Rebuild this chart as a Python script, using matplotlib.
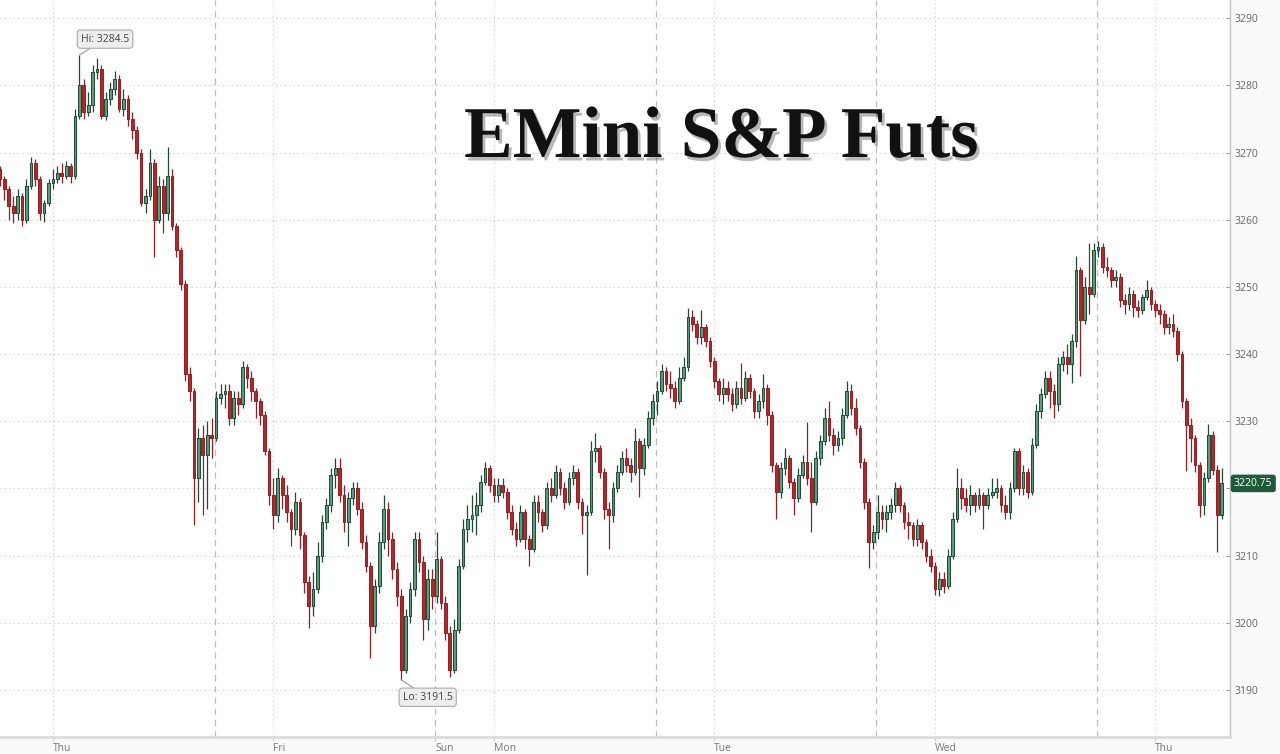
import matplotlib
matplotlib.use('Agg')
import matplotlib.pyplot as plt
import matplotlib.patheffects as pe
import matplotlib.transforms as mtransforms
import numpy as np

# ---------------- data ----------------
opens = [3267.5, 3266, 3264.5, 3262, 3261, 3263.5, 3260, 3265, 3268.5, 3266,
         3261, 3262.5, 3265.5, 3266, 3267, 3266.5, 3268, 3266.5, 3275.5, 3280,
         3276, 3277, 3282, 3282.5, 3275.5, 3278, 3279.5, 3281, 3276.5, 3278,
         3275, 3273.3, 3270, 3262.5, 3263.5, 3268.5, 3260, 3265, 3261, 3266.5,
         3259, 3255.5, 3250.5, 3237, 3234.5, 3221.5, 3227.5, 3225, 3228, 3227.5,
         3233.5, 3234, 3234.5, 3230.5, 3233.5, 3232.5, 3238, 3236.5, 3234.5, 3233,
         3231, 3225.5, 3219, 3216, 3221.5, 3219, 3216.5, 3214, 3218, 3213,
         3206, 3202.5, 3205, 3210, 3215, 3217.5, 3222, 3223, 3219, 3215,
         3218.5, 3220, 3217, 3212, 3208.5, 3199.5, 3205.5, 3212, 3217, 3212.5,
         3208, 3204, 3193, 3201, 3205, 3212.5, 3209, 3200.5, 3206.5, 3204,
         3209.5, 3203, 3198.5, 3193, 3199, 3208.5, 3214, 3215.5, 3216, 3217.5,
         3221, 3223, 3220.5, 3219, 3220.5, 3219.5, 3216.5, 3214, 3212.5, 3216.5,
         3212.5, 3211, 3218, 3216.5, 3214.5, 3220, 3219, 3222.5, 3220, 3218,
         3221.5, 3222.5, 3218, 3216, 3216.5, 3225.5, 3226, 3222.5, 3217, 3216,
         3220, 3222.5, 3224.5, 3223.5, 3222.5, 3227, 3223, 3226.5, 3230.5, 3233,
         3234.5, 3237.5, 3235.5, 3235, 3233, 3236.5, 3238, 3245.5, 3244.5, 3242.5,
         3244, 3242, 3239, 3236, 3234, 3235, 3234, 3232.5, 3235, 3233.5,
         3236.5, 3234.5, 3231.5, 3233, 3235, 3231, 3223.5, 3219.5, 3223, 3224.5,
         3221, 3218.5, 3222, 3224, 3221.5, 3218, 3224.5, 3227, 3230.5, 3228,
         3226.5, 3227.5, 3231, 3234.5, 3232, 3229, 3224, 3218, 3212, 3213.5,
         3216.5, 3215.5, 3216.5, 3217.5, 3220, 3217.5, 3215, 3214.5, 3212.5, 3214.5,
         3212, 3210, 3208.5, 3205, 3206.5, 3205.5, 3210, 3215.5, 3220, 3218.5,
         3217.5, 3219, 3217.5, 3219, 3217.5, 3219, 3219.5, 3220, 3217.5, 3216.5,
         3220, 3225.5, 3220, 3222.5, 3219.5, 3226.5, 3231.5, 3234, 3236.5, 3234.5,
         3232.5, 3238.5, 3239.5, 3238.5, 3242, 3252.5, 3245, 3250, 3249, 3255.5,
         3256, 3253, 3252.5, 3251, 3251.5, 3248, 3247.5, 3249, 3247, 3246.5,
         3248.5, 3249.5, 3247.5, 3246.5, 3246, 3244, 3244.5, 3243.5, 3240, 3233,
         3229.5, 3227.5, 3223.5, 3217.5, 3221.5, 3228, 3222.8, 3216]
highs = [3268, 3266.5, 3265, 3263.5, 3264.5, 3264, 3266, 3269.3, 3269, 3266.5,
         3263, 3266, 3267.5, 3268, 3268.4, 3268.8, 3268.5, 3276.5, 3284.5, 3281,
         3279, 3283, 3284, 3283, 3279, 3280.5, 3282.2, 3281.5, 3279.5, 3278.5,
         3276, 3274, 3270.5, 3264.5, 3270.5, 3269, 3266.5, 3266, 3270.8, 3267.5,
         3259.5, 3256, 3251, 3238, 3235, 3229, 3229.5, 3230, 3230.5, 3234.5,
         3235.5, 3235.5, 3235.5, 3234.5, 3234.5, 3239, 3238.5, 3237.5, 3235, 3233.5,
         3231.5, 3226, 3221.5, 3223, 3222, 3220.5, 3217, 3219.5, 3218.5, 3213.5,
         3207, 3207.5, 3212, 3216, 3218.5, 3223, 3224.5, 3224.5, 3220.5, 3219.5,
         3221, 3221, 3218, 3213, 3209, 3206.5, 3213.5, 3219, 3218, 3213.5,
         3209, 3205, 3202, 3206, 3213.5, 3213.5, 3210, 3208, 3208, 3213.5,
         3210, 3204, 3199.5, 3200.5, 3209.5, 3215.5, 3217.5, 3219, 3219.5, 3222,
         3224, 3223.5, 3221.5, 3221.5, 3221.5, 3220, 3217.5, 3215, 3217.5, 3217,
         3213, 3219, 3219, 3217, 3221, 3221.5, 3223.5, 3223, 3221, 3222.5,
         3223.5, 3223, 3218.5, 3217.5, 3227, 3228.2, 3226.5, 3223, 3218, 3221,
         3223.5, 3225.5, 3226, 3224.5, 3229, 3227.5, 3227.5, 3231.5, 3234, 3236,
         3238.5, 3238, 3237.5, 3236, 3238, 3239.5, 3246.8, 3246.5, 3245, 3246.5,
         3244.5, 3242.5, 3239.5, 3236.5, 3236.5, 3236, 3235, 3236, 3238.6, 3237.5,
         3237, 3235, 3234, 3237, 3235.5, 3231.5, 3224, 3224, 3226, 3225,
         3221.5, 3223, 3225, 3229.9, 3224, 3225.5, 3228, 3232, 3233, 3229,
         3228.5, 3232, 3236, 3235.5, 3233.5, 3229.5, 3224.5, 3218.5, 3214.5, 3219,
         3217.5, 3217.5, 3218.5, 3221, 3220.5, 3218, 3216.5, 3215, 3215.5, 3215,
         3212.5, 3211, 3209, 3207.5, 3207.5, 3211, 3216.5, 3223, 3221.5, 3220,
         3220.5, 3219.5, 3220, 3219.5, 3220, 3221.5, 3221.5, 3220.5, 3219, 3221,
         3226, 3226, 3223.5, 3223, 3227.5, 3232.5, 3235, 3237.5, 3237.5, 3235.5,
         3239.5, 3240.5, 3241.5, 3243, 3254.6, 3253, 3251.5, 3256.6, 3256.5, 3256.8,
         3256.5, 3254.5, 3253, 3252.5, 3252, 3249, 3250, 3249.5, 3248, 3249,
         3251, 3250, 3248, 3247.5, 3246.5, 3245.5, 3246, 3244, 3240.5, 3233.5,
         3230.5, 3228, 3224, 3222.5, 3229.6, 3228.5, 3223.5, 3223.1]
lows = [3265, 3263, 3260, 3259.5, 3260, 3259, 3259.5, 3264.5, 3265, 3260,
        3259.6, 3262, 3264.5, 3265.5, 3265.5, 3266, 3265.5, 3266, 3275, 3275,
        3275.5, 3276, 3281, 3275, 3274.8, 3277, 3278.5, 3276, 3275.5, 3274,
        3272, 3269, 3262, 3261, 3263, 3254.5, 3259.5, 3258, 3260, 3258.5,
        3254.5, 3249.5, 3236, 3233, 3214.6, 3218, 3216, 3217, 3224.5, 3227,
        3232.5, 3232, 3229.5, 3229.5, 3231, 3232, 3235, 3233, 3230.5, 3229.5,
        3225, 3217.5, 3214, 3215, 3217, 3215, 3211.5, 3213, 3211, 3204.5,
        3199.2, 3201, 3204.5, 3209, 3214, 3216.5, 3220, 3218, 3213.5, 3211.5,
        3217.5, 3216, 3211, 3207.5, 3194.7, 3198.5, 3204.5, 3211, 3210, 3206.5,
        3202.5, 3191.5, 3192.5, 3200, 3204, 3207.5, 3197.5, 3199, 3202, 3203,
        3202, 3197.5, 3192, 3192.5, 3198.5, 3208, 3212, 3213.5, 3213, 3216.5,
        3220.5, 3219.5, 3218, 3218, 3218.5, 3215.5, 3213, 3211.5, 3212, 3211,
        3208.5, 3210.5, 3215, 3213.5, 3214, 3218, 3218.5, 3219, 3217, 3217.5,
        3220.5, 3217, 3213.2, 3207.1, 3216, 3224, 3221.5, 3215.5, 3211, 3215,
        3219.5, 3222, 3222.5, 3221, 3222, 3218.7, 3222, 3226, 3229.5, 3231,
        3234, 3234.5, 3233.5, 3232, 3232.5, 3236, 3237.5, 3243.5, 3241.5, 3241.5,
        3241, 3238, 3235, 3233, 3232.5, 3233, 3231.5, 3232, 3232.5, 3233,
        3233.5, 3230.5, 3230.5, 3232, 3229.5, 3222.5, 3215.5, 3218.5, 3222, 3220,
        3216, 3218, 3221.5, 3220.5, 3213.5, 3217.5, 3223.5, 3226.5, 3227, 3225,
        3225.5, 3226.5, 3230.5, 3231, 3228, 3223, 3217, 3208.2, 3211, 3212.5,
        3214, 3213.5, 3215.5, 3216.5, 3216.5, 3214, 3212.5, 3211.5, 3211.5, 3211,
        3209, 3207.5, 3204.2, 3204, 3204.5, 3205, 3209.5, 3215, 3217, 3216.5,
        3216, 3216.5, 3217, 3214, 3217, 3218.5, 3218.5, 3216.5, 3215.5, 3215.5,
        3219.5, 3219, 3219, 3218.5, 3219, 3226, 3230.5, 3233.5, 3232, 3230.5,
        3231.5, 3237.5, 3237, 3235.7, 3241, 3236.7, 3244.5, 3246, 3248.5, 3254.5,
        3252, 3251.5, 3250, 3250, 3247, 3246, 3246.5, 3245.5, 3245.5, 3246,
        3248, 3246.5, 3245.5, 3244.5, 3243, 3243, 3242.5, 3239, 3232, 3222.6,
        3224, 3222.5, 3215.7, 3216, 3221, 3222, 3210.5, 3215.5]
closes = [3266, 3264.5, 3262, 3261, 3263.5, 3260, 3265, 3268.5, 3266, 3261,
          3262.5, 3265.5, 3266, 3267, 3266.5, 3268, 3266.5, 3275.5, 3280, 3276,
          3277, 3282, 3282.5, 3275.5, 3278, 3279.5, 3281, 3276.5, 3278, 3275,
          3273.3, 3270, 3262.5, 3263.5, 3268.5, 3260, 3265, 3261, 3266.5, 3259,
          3255.5, 3250.5, 3237, 3234.5, 3221.5, 3227.5, 3225, 3228, 3227.5, 3233.5,
          3234, 3234.5, 3230.5, 3233.5, 3232.5, 3238, 3236.5, 3234.5, 3233, 3231,
          3225.5, 3219, 3216, 3221.5, 3219, 3216.5, 3214, 3218, 3213, 3206,
          3202.5, 3205, 3210, 3215, 3217.5, 3222, 3223, 3219, 3215, 3218.5,
          3220, 3217, 3212, 3208.5, 3199.5, 3205.5, 3212, 3217, 3212.5, 3208,
          3204, 3193, 3201, 3205, 3212.5, 3209, 3200.5, 3206.5, 3204, 3209.5,
          3203, 3198.5, 3193, 3199, 3208.5, 3214, 3215.5, 3216, 3217.5, 3221,
          3223, 3220.5, 3219, 3220.5, 3219.5, 3216.5, 3214, 3212.5, 3216.5, 3212.5,
          3211, 3218, 3216.5, 3214.5, 3220, 3219, 3222.5, 3220, 3218, 3221.5,
          3222.5, 3218, 3216, 3216.5, 3225.5, 3226, 3222.5, 3217, 3216, 3220,
          3222.5, 3224.5, 3223.5, 3222.5, 3227, 3223, 3226.5, 3230.5, 3233, 3234.5,
          3237.5, 3235.5, 3235, 3233, 3236.5, 3238, 3245.5, 3244.5, 3242.5, 3244,
          3242, 3239, 3236, 3234, 3235, 3234, 3232.5, 3235, 3233.5, 3236.5,
          3234.5, 3231.5, 3233, 3235, 3231, 3223.5, 3219.5, 3223, 3224.5, 3221,
          3218.5, 3222, 3224, 3221.5, 3218, 3224.5, 3227, 3230.5, 3228, 3226.5,
          3227.5, 3231, 3234.5, 3232, 3229, 3224, 3218, 3212, 3213.5, 3216.5,
          3215.5, 3216.5, 3217.5, 3220, 3217.5, 3215, 3214.5, 3212.5, 3214.5, 3212,
          3210, 3208.5, 3205, 3206.5, 3205.5, 3210, 3215.5, 3220, 3218.5, 3217.5,
          3219, 3217.5, 3219, 3217.5, 3219, 3219.5, 3220, 3217.5, 3216.5, 3220,
          3225.5, 3220, 3222.5, 3219.5, 3226.5, 3231.5, 3234, 3236.5, 3234.5, 3232.5,
          3238.5, 3239.5, 3238.5, 3242, 3252.5, 3245, 3250, 3249, 3255.5, 3256,
          3253, 3252.5, 3251, 3251.5, 3248, 3247.5, 3249, 3247, 3246.5, 3248.5,
          3249.5, 3247.5, 3246.5, 3246, 3244, 3244.5, 3243.5, 3240, 3233, 3229.5,
          3227.5, 3223.5, 3217.5, 3221.5, 3228, 3222.8, 3216, 3220.75]

day_labels = ['Thu', 'Fri', 'Sun', 'Mon', 'Tue', 'Wed', 'Thu']
y_ticks = [3190, 3200, 3210, 3220, 3230, 3240, 3250, 3260, 3270, 3280, 3290]
title_text = 'EMini S&P Futs'
hi_text = 'Hi: 3284.5'
lo_text = 'Lo: 3191.5'
last_text = '3220.75'

# ---------------- layout / style ----------------
W, H = 1280, 754
fig = plt.figure(figsize=(W / 100, H / 100), dpi=100, facecolor='#fafafa')
ax = fig.add_axes([0, 17 / H, 1230 / W, 737 / H])
ax.set_facecolor('white')

o = np.array(opens, dtype=float)
h = np.array(highs, dtype=float)
l = np.array(lows, dtype=float)
c = np.array(closes, dtype=float)
n = len(c)
x = np.arange(n)

bars_per_session = 50
first_session = -1.25
midnight_offset = 13.25
sessions = [first_session + bars_per_session * k for k in range(6)]
tick_pos = [sessions[0] + midnight_offset, sessions[1] + midnight_offset, sessions[2],
            sessions[2] + midnight_offset, sessions[3] + midnight_offset,
            sessions[4] + midnight_offset, sessions[5] + midnight_offset]

# grid
for yv in y_ticks:
    ax.axhline(yv, color='#c9c9c9', lw=0.8, ls=(0, (1, 3)), zorder=0)
for i, tp in enumerate(tick_pos):
    if day_labels[i] != 'Sun':
        ax.axvline(tp, color='#c9c9c9', lw=0.8, ls=(0, (1, 3)), zorder=0)
for sp in sessions[1:]:
    ax.axvline(sp, color='#bdbdbd', lw=0.9, ls=(0, (5, 4)), zorder=0)

# candles
up = c >= o
up_face, up_edge = '#5a9c7a', '#1d4a33'
dn_face, dn_edge = '#b3262c', '#971d22'
wick_cols = np.where(up, up_edge, dn_edge)
ax.vlines(x, l, h, colors=wick_cols, lw=0.9, zorder=2)
body_bot = np.minimum(o, c)
body_h = np.maximum(np.abs(c - o), 0.3)
ax.bar(x[up], body_h[up], bottom=body_bot[up], width=0.62,
       color=up_face, edgecolor=up_edge, linewidth=0.7, zorder=3)
ax.bar(x[~up], body_h[~up], bottom=body_bot[~up], width=0.62,
       color=dn_face, edgecolor=dn_edge, linewidth=0.7, zorder=3)

ax.set_xlim(0, 1230 / 4.41)
ax.set_ylim(3183.0, 3292.7)

# axes styling
for s in ['top', 'left']:
    ax.spines[s].set_visible(False)
ax.spines['bottom'].set_color('#dcdcdc')
ax.spines['bottom'].set_linewidth(2)
ax.spines['right'].set_color('#c4c4c4')
ax.spines['right'].set_linewidth(1)

ax.yaxis.tick_right()
ax.set_yticks(y_ticks)
ax.set_yticklabels([str(v) for v in y_ticks])
ax.tick_params(axis='y', direction='in', length=3, color='#999999', pad=3,
               labelsize=7.5, labelcolor='#666666')
ax.set_xticks(tick_pos)
ax.set_xticklabels(day_labels)
for t in ax.get_xticklabels():
    t.set_horizontalalignment('left')
ax.tick_params(axis='x', direction='out', length=3, color='#cccccc', pad=1,
               labelsize=7.5, labelcolor='#777777')
for t in ax.get_xticklabels() + ax.get_yticklabels():
    t.set_fontfamily('Open Sans')

# title
ax.text(0.5865, (737 - 157) / 737, title_text, transform=ax.transAxes, ha='center',
        va='baseline', fontsize=52.5, fontweight='bold', family='Liberation Serif',
        color='#111111',
        path_effects=[pe.SimplePatchShadow(offset=(2, -2.5), shadow_rgbFace='#000000', alpha=0.28),
                      pe.Normal()], zorder=5)

# Hi / Lo callouts
hi_idx = int(np.argmax(h))
lo_idx = int(np.argmin(l))
box = dict(boxstyle='round,pad=0.35,rounding_size=0.3', fc='#eeeeee', ec='#aaaaaa', lw=0.8)
ax.annotate(hi_text, xy=(x[hi_idx], h[hi_idx]), xytext=(18.5, 11.5), textcoords='offset points',
            ha='center', va='center', fontsize=7.5, color='#444444', family='Open Sans',
            bbox=box, arrowprops=dict(arrowstyle='-', color='#999999', lw=0.8,
                                      shrinkA=0, shrinkB=0), zorder=6)
ax.annotate(lo_text, xy=(x[lo_idx], l[lo_idx]), xytext=(19, -12.5), textcoords='offset points',
            ha='center', va='center', fontsize=7.5, color='#444444', family='Open Sans',
            bbox=box, arrowprops=dict(arrowstyle='-', color='#999999', lw=0.8,
                                      shrinkA=0, shrinkB=0), zorder=6)

# last price tag (covers the 3220 axis label, as in the original)
trans = mtransforms.blended_transform_factory(ax.transAxes, ax.transData)
ax.text(1.0 + 4 / 1230, c[-1], last_text, transform=trans, ha='left', va='center',
        fontsize=7.5, color='white', family='Open Sans',
        bbox=dict(boxstyle='round,pad=0.25,rounding_size=0.2', fc='#1d5b3b', ec='#1d5b3b'),
        zorder=7, clip_on=False)

fig.savefig('out.png', dpi=100, facecolor=fig.get_facecolor())
